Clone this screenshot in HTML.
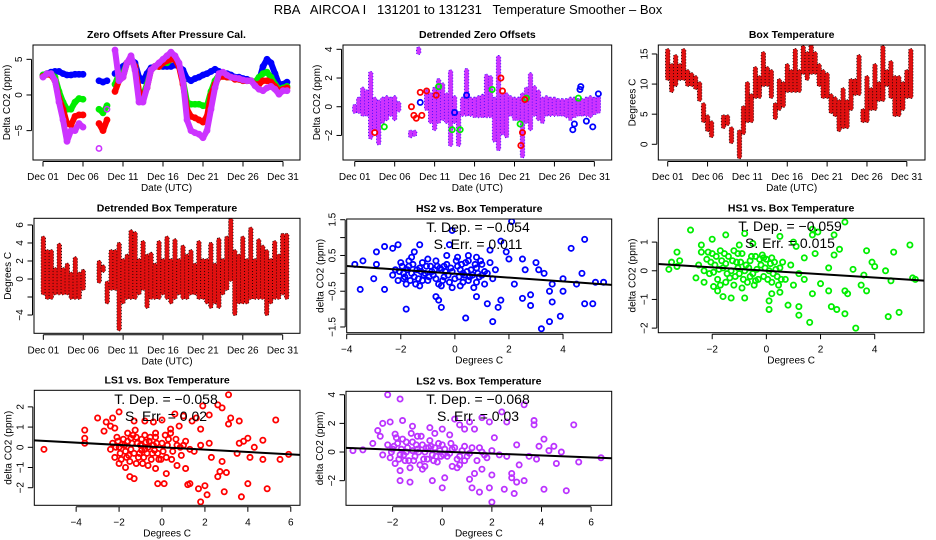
<!DOCTYPE html>
<html><head><meta charset="utf-8"><style>
html,body{margin:0;padding:0;background:#fff}
svg{display:block}
text{font-family:"Liberation Sans",sans-serif;fill:#000}
</style></head><body>
<svg id="chart" width="936" height="540" viewBox="0 0 936 540" xmlns="http://www.w3.org/2000/svg">
<rect width="936" height="540" fill="#fff"/>
<text x="468" y="14" font-size="13" text-anchor="middle" xml:space="preserve">RBA   AIRCOA I   131201 to 131231   Temperature Smoother – Box</text>
</svg>
<script>
// ---------- DATA ----------
// half-day series, day = 1 + 0.5*i (Dec 01 = 1)
const zoBlue = [2.8,3,3.2,3.3,3.3,3,2.8,2.8,2.9,2.9,2.9,null,null,null,2,1.8,2,null,3,3.5,4,4.5,5,4.5,2.5,2,3,3.8,4,4,4,4,4,4.2,4,3.5,2.3,2,2.3,2.5,2.8,3,3.3,3.6,3.3,3,3,2.8,2.5,2.5,2.3,2.2,2,1.5,2,4,5,4.5,3,1.5,1.5,1.8];
const zoGreen = [2.8,3,3,2.5,0.5,-1,-2,-2,-1,-0.5,-0.6,null,null,null,-2,-2.5,-1.5,null,1.5,3,3,4.5,5,4,0.5,0,1.5,3.5,4,4,4.5,4.5,5,5,4.2,2,-1,-1.3,-1.3,-1.3,-1.5,-1.5,0.5,2,2.8,2.8,2.5,2.5,2.3,2.2,2,2,2,1.8,2.5,3,3.2,2.5,1.5,0.8,1,1.2];
const zoRed = [2.6,2.9,2.8,2,-0.5,-2,-4,-4.2,-3,-2.8,-2.8,null,null,null,-4,-5,-3.5,null,0.5,2,2.5,4.5,5,4,0.5,-0.5,1,3.5,4,4,4.5,4.8,5,5,4,1.5,-2,-3,-3.2,-3.5,-3.8,-3,0,1.5,2.5,2.6,2.5,2.5,2.2,2.2,2,2,2,1.5,1.5,2,2,1.8,1.2,0.6,0.8,1];
const zoMag = [2.5,3,3,2,-1,-3.5,-6.5,-5,-5,-4,-4.5,null,null,null,-7.5,null,-2,null,6.3,2,2.5,4.5,5.5,3.5,-1,-1,1,3.5,4,4.5,5,5.5,6,5.5,4.5,2,-3.5,-5,-5.3,-5.5,-6,-5,-2,1,3,3.2,2.8,2.5,2.4,2.3,2.1,2,2,1.3,0.8,0.6,1,1.2,0.8,0.1,0.6,0.6];

const dzLo = [-0.3,-0.3,-0.5,-0.5,-2.1,-1.5,-2.5,-1,-0.8,-0.5,-0.8,-0.2,null,null,-2,-1.9,3.8,null,-0.1,-1,-1.5,-1,-0.8,-1,-2.6,-1,-2.6,-0.5,-0.5,-0.5,-0.6,-0.6,-0.6,-0.6,-0.6,-2.3,-2.9,-1.8,-2,-0.5,-0.8,-0.8,-3.4,-1,-1.5,-0.5,-0.8,-1,-0.5,-0.5,-0.5,-0.5,-0.5,-0.6,-0.8,-0.6,-0.5,-0.5,-0.5,-0.6,-0.4,-0.3];
const dzHi = [0,0.5,1.2,1,2.3,0.5,0.3,0.5,0.6,0.5,0.6,0.2,null,null,-1.8,-1.8,4,null,1,0.8,1.2,1.8,1.5,0.8,2.4,0.6,-0.5,0.5,2.5,0.5,0.5,0.6,0.7,2.1,2,0.5,3.4,0.8,0.8,0.6,0.5,0.5,0.8,1.2,2.2,1.3,1,0.5,0.6,0.5,0.5,0.4,0.4,0.4,0.5,0.5,0.4,0.4,0.5,0.6,0.5,0.6];
const dzBluePts = [[28.3,-1.6],[28.5,-1.2],[29.2,1.2],[29.3,1.4],[30,-1],[30.8,-1.4],[31.5,0.9],[9.2,0.3],[15,0.8],[13.5,-0.4]];
const dzGreenPts = [[4.7,-1.4],[13.2,-1.6],[14.2,-1.6],[21.7,-1.2],[22.5,0.6],[29,0.6],[11.5,1.4],[18.2,1.2]];
const dzRedPts = [[8.1,0],[8.7,-0.8],[9.2,1],[9.4,-0.6],[10,1.1],[3.5,-1.8],[21.8,-2.7],[22,-1.8],[22.3,0.5],[19.3,2],[19.5,1.1],[11.2,0.8],[8.4,-0.6]];

const btLo = [11,9,10,11,11,10,10,9.5,7.5,4,2.5,1.5,null,null,3,3.5,0.5,null,-2,2,4,4,8,8,10,10,8,4.5,6,6.5,9,9,9,9,12,11,12,12,10,8,8,5.5,5,2.5,3,3,6,8.5,8.5,4,4,6,6,7.5,7.5,10,8,5,5,6,8,8];
const btHi = [15.5,13,14.5,13,15.5,12,11.5,11,10,6.5,4.5,3.5,null,null,4.5,4.5,2.5,null,2,6,10,8,12.5,11,15,12.5,12,6.5,10.5,10,13,12,15.5,12,16,15,16.5,15,13,12,11.5,8,7.5,7,9,7,10.5,10.5,14.5,5.5,11,9,13,10,16,12,13.5,11,11,10,12,15.5];

const dbLo = [-1.5,-2,-2,-1.5,-1.5,-1.5,-1.5,-2,-2,-2,-1,null,null,null,-0.2,1,-2.5,-1,-1,-5.5,-2.5,-2,-2,-2,-1.5,-1,-3,-2,-2,-2,-1.5,-2,-2.5,-2,-1.5,-2,-2,-1.5,-1.5,-2,-2,-2.5,-3,-2.5,-3,-1.5,-1,0,-3.8,-2.5,-2.5,-2.5,-2,-2,-2,-2,-3.8,-2.5,-2,-2,-1.5,-2];
const dbHi = [4.5,3,3,1,3.7,1,1.5,0.5,2.2,0.5,0.8,null,null,null,1.8,1.3,-0.5,3,3,3.8,2,2.5,5.2,5,2,4,2.5,2.7,1.5,4,2,4.5,2,4.2,2,3.5,2.5,3,1.5,4,2,2,3.8,1.5,4.3,2,4.5,6.5,3,2.5,4.5,2,5.5,2,4.2,3.5,3,2,4,2.5,4.8,4.8];

const hs2Pts = [[-3.7,0.25],[-3.5,-0.45],[-3.4,0.35],[-2.9,0.6],[-2.9,0.25],[-3,-0.15],[-2.6,0.75],[-2.6,-0.45],[-2.3,0.7],[-2.1,0.8],[-1.8,-1.0],[-1.3,0.8],[-1.5,0.6],[-0.7,-0.65],[-0.6,-0.75],[-0.5,-0.95],[-0.3,0.5],[-0.2,0.8],[-0.1,1.2],[0.1,0.45],[0.4,-1.25],[0.5,0.5],[0.8,-0.65],[0.8,0.45],[1.2,-0.85],[1.3,0.65],[1.4,-1.35],[1.6,-0.95],[1.7,0.9],[1.7,-0.75],[1.9,0.6],[2.1,1.45],[2.0,0.4],[2.5,0.4],[2.5,-0.7],[2.8,-0.6],[2.8,-0.9],[3.0,0.3],[3.1,0.1],[3.2,-1.55],[3.5,-1.35],[3.5,-0.5],[3.6,-0.3],[3.9,-1.2],[4.0,-0.5],[4.0,-0.15],[4.3,0.7],[4.5,-0.3],[4.7,0.0],[4.8,0.95],[4.8,-0.85],[5.1,-0.85],[5.2,-0.25],[5.5,-0.25],[3.6,-0.8],[2.6,0.1],[2.2,-0.3],[3.3,0.0],
[-2.2,0.1],[-2.1,-0.2],[-2,0.3],[-1.9,0],[-1.8,-0.3],[-1.7,0.2],[-1.6,0.45],[-1.5,-0.1],[-1.4,0.1],[-1.3,-0.35],[-1.2,0.3],[-1.1,0],[-1,-0.2],[-0.9,0.2],[-0.8,-0.05],[-0.7,0.35],[-0.6,-0.3],[-0.5,0.1],[-0.4,-0.1],[-0.3,0.25],[-0.2,-0.25],[-0.1,0.05],[0,-0.15],[0.1,0.2],[0.2,-0.35],[0.3,0],[0.4,0.3],[0.5,-0.2],[0.6,0.1],[0.7,-0.4],[0.8,0.15],[0.9,-0.1],[1,0.25],[1.1,-0.3],[1.2,0],[1.3,0.3],[1.4,-0.15],[1.5,0.1],[-1.9,-0.15],[-1.6,0],[-1.3,0.15],[-1,0.4],[-0.7,-0.15],[-0.4,0.2],[-0.1,-0.4],[0.2,0.1],[0.5,0.35],[0.8,-0.25],[1.1,0.05],[-2.3,-0.05],[-1.75,0.1],[-1.45,-0.3],[-1.15,-0.05],[-0.85,0.05],[-0.55,0.15],[-0.25,-0.05],[0.05,0.35],[0.35,-0.05],[0.65,-0.05],[0.95,0.35],
[-2.05,0.05],[-1.95,0.2],[-1.85,-0.1],[-1.65,-0.2],[-1.55,0.25],[-1.35,-0.15],[-1.25,0.05],[-1.05,0.2],[-0.95,-0.1],[-0.75,0.1],[-0.65,0.2],[-0.45,-0.2],[-0.35,0.05],[-0.15,0.15],[0.15,-0.1],[0.25,0.25],[0.45,0.05],[0.55,-0.1],[0.75,0.25],[0.85,0],[-1.2,-0.2],[-0.5,-0.35],[-1.7,0.35],[0.3,-0.25],[1.0,-0.05]];
const hs1Pts = [[-3.6,0.05],[-3.5,0.3],[-3.3,0.15],[-3.3,0.65],[-3.2,0.35],[-2.8,1.42],[-2.6,-0.25],[-2.4,0.9],[-2.4,0.65],[-2.3,-0.4],[-2,1.1],[-1.8,-0.7],[-1.6,-0.9],[-1.5,1.25],[-1.3,-0.95],[-1,0.9],[-0.9,-0.6],[-0.8,1.3],[-0.8,-0.95],[-0.5,0.95],[-0.1,0.45],[0.1,-1.35],[0.1,-1.05],[0.2,-0.8],[0.5,1.2],[0.5,-0.75],[0.8,-1.2],[1,1],[1.1,0.85],[1.2,-1.55],[1.2,-1.25],[1.4,0.45],[1.6,-1.8],[1.7,1.25],[1.7,1.45],[1.7,-0.8],[1.8,0.6],[1.9,1.35],[2,-0.45],[2.3,-0.7],[2.4,-1.25],[2.5,1.25],[2.5,0.55],[2.6,-1.35],[2.7,0.75],[2.9,-1.5],[2.9,-0.7],[2.9,1.7],[3,-0.8],[3.3,-2],[3.2,0.05],[3.5,-0.5],[3.6,-0.15],[3.7,0.7],[3.7,-0.7],[3.9,0.3],[4,0.15],[4.4,0.0],[4.5,-1.6],[4.6,-0.35],[4.7,0.65],[4.9,-1.45],[5.3,0.9],[5.4,-0.25],[5.5,-0.3],[2.3,0.1],[1.4,-0.3],[1,-0.5],
[-2.2,0.4],[-2.1,-0.1],[-2,0.6],[-1.9,0.2],[-1.8,-0.3],[-1.7,0.7],[-1.6,0.1],[-1.5,-0.4],[-1.4,0.5],[-1.3,0],[-1.2,-0.5],[-1.1,0.3],[-1,-0.1],[-0.9,0.6],[-0.8,0],[-0.7,-0.4],[-0.6,0.35],[-0.5,-0.1],[-0.4,0.5],[-0.3,-0.3],[-0.2,0.2],[-0.1,-0.2],[0,0.4],[0.1,0],[0.2,-0.4],[0.3,0.3],[0.4,-0.2],[0.5,0.1],[0.7,-0.3],[0.9,0.2],[-2.3,0],[-1.95,-0.55],[-1.65,0.35],[-1.35,-0.25],[-1.05,0.6],[-0.75,0.2],[-0.45,-0.5],[-0.15,0.55],[0.15,0.25],[0.45,-0.5],[-2.5,0.2],[-1.5,0.25],[-0.6,-0.2],[0.25,-0.1],[1.2,-0.1],
[-2.05,0.3],[-1.95,-0.05],[-1.85,0.5],[-1.75,0.05],[-1.55,0.6],[-1.45,-0.1],[-1.25,0.35],[-1.15,-0.2],[-0.95,0.3],[-0.85,-0.3],[-0.65,0.1],[-0.55,0.5],[-0.35,0.05],[-0.25,0.4],[-0.05,0.1],[0.05,-0.3],[0.35,0.05],[0.55,-0.3],[-2.15,0.65],[-1.05,0.1],[-0.4,-0.35],[0.2,0.45],[-1.7,-0.5],[-1.2,0.7],[0.6,0.3]];
const ls1Pts = [[-5.5,-0.1],[-3.6,0.85],[-3.6,0.45],[-3.6,0.2],[-3,1.45],[-2.7,0.8],[-2.6,1.25],[-2.4,1.05],[-2.3,1.45],[-2.2,0.95],[-2,-0.8],[-2,1.75],[-1.7,-1],[-1.5,-1.45],[-1.3,-1.55],[-1.3,1.3],[-0.8,1.3],[-0.4,1.25],[-0.3,-1.05],[-0.2,-1.8],[0,1.35],[0.1,-1.8],[0.2,-1.3],[0.4,0.7],[0.6,1.65],[0.7,-0.9],[0.8,1.05],[1,1.55],[1.1,-1.05],[1.2,-1.85],[1.3,-1.8],[1.4,1.3],[1.6,1.45],[1.7,-2.05],[1.8,0.9],[1.8,-2.7],[1.9,2.05],[2,-1.9],[2.1,-2.35],[2.2,1.6],[2.6,-1.45],[2.6,2.1],[2.7,-1.2],[2.8,1.95],[2.8,-0.7],[2.9,-2.2],[3,-1.25],[3.1,2.6],[3.1,1.15],[3.2,1.45],[3.6,1.3],[3.6,0.2],[3.7,-2.45],[3.8,0.3],[4,0.45],[4,-1.8],[4.1,-0.5],[4.3,0.0],[4.7,0.35],[4.7,-0.6],[4.9,-2.05],[5.3,1.35],[5.5,-0.6],[5.9,-0.35],[2.3,-0.5],[1.5,-0.2],[3.5,-0.3],
[-2.3,0.2],[-2.2,-0.5],[-2.1,0.5],[-2,0],[-1.9,-0.6],[-1.8,0.4],[-1.7,-0.2],[-1.6,0.7],[-1.5,-0.7],[-1.4,0.2],[-1.3,-0.3],[-1.2,0.5],[-1.1,-0.5],[-1,0.1],[-0.9,-0.8],[-0.8,0.6],[-0.7,-0.3],[-0.6,0.3],[-0.5,-0.6],[-0.4,0.1],[-0.3,0.5],[-0.2,-0.3],[0,0.2],[0.2,-0.5],[0.3,0.4],[0.5,-0.2],[0.7,0.1],[0.9,-0.4],[1.1,0.3],[1.3,-0.1],[-1.85,0.15],[-1.55,-0.4],[-1.25,0.85],[-0.95,-0.15],[-0.65,-0.9],[-0.35,-0.15],[-0.05,-0.6],[0.4,0.9],[-2.4,-0.1],[-1.45,0.45],[-1.05,-0.3],[-0.75,0.25],[1.8,0.1],[2.2,0.2],[0.15,0.6],
[-2.15,0.0],[-2.05,0.3],[-1.95,-0.3],[-1.75,0.1],[-1.65,-0.5],[-1.45,-0.1],[-1.35,0.6],[-1.15,0.2],[-0.95,0.4],[-0.85,-0.5],[-0.65,0.0],[-0.55,0.5],[-0.45,-0.3],[-0.25,0.2],[-0.15,-0.6],[0.05,-0.2],[0.25,0.1],[0.45,-0.6],[0.65,0.4],[0.85,0.0],[-1.6,0.3],[-1.2,-0.8],[-0.8,-0.1],[-0.3,0.7],[1.0,0.1]];
const ls2Pts = [[-3.6,0.1],[-3.2,0.15],[-2.8,0.6],[-2.6,1.5],[-2.5,1.1],[-2.4,2.0],[-2.2,4.0],[-2.1,2.1],[-1.9,1.25],[-1.7,3.7],[-1.7,-1.3],[-1.7,-2],[-1.6,2.2],[-1.3,-2.1],[-1.2,1.8],[-1,1.1],[-0.7,-1.0],[-0.5,1.7],[-0.4,-2],[-0.3,1.3],[0,-2.5],[0,1.6],[0.1,-1.8],[0.3,1.2],[0.4,-1.0],[0.5,2.3],[0.6,-1.1],[0.7,1.9],[0.9,1.6],[0.9,-0.6],[1.1,2.1],[1.1,-1.9],[1.2,-2.5],[1.3,1.6],[1.3,-1.5],[1.5,-2.8],[1.6,2.4],[1.6,-1.2],[1.9,-2.5],[1.9,2.1],[2,-3.5],[2,-1.6],[2.1,1.0],[2.4,2.8],[2.5,-2.6],[2.6,2.1],[2.8,-1.5],[2.8,-1.8],[2.9,-2.9],[3,-2.1],[3,0.5],[3.1,-0.9],[3.3,3.3],[3.3,-2.0],[3.7,2.2],[3.7,1.9],[3.8,-0.5],[3.9,0.4],[4.1,0.9],[4.1,-2.6],[4.3,0.1],[4.5,0.4],[4.6,-0.8],[4.8,0],[5,-2.7],[5.3,1.9],[5.5,-0.7],[6.4,-0.4],[2.6,-0.3],[3.5,-0.3],
[-2.2,0.5],[-2.1,-0.4],[-2,0.2],[-1.9,-0.8],[-1.8,0.6],[-1.7,-0.2],[-1.6,0.9],[-1.5,-0.6],[-1.4,0.3],[-1.3,-1.1],[-1.2,0.7],[-1.1,-0.3],[-1,0.2],[-0.9,-0.9],[-0.8,0.5],[-0.7,0],[-0.6,-0.5],[-0.5,0.8],[-0.4,-0.2],[-0.3,0.3],[-0.2,-0.7],[-0.1,0.1],[0,0.5],[0.2,-0.3],[0.4,0.2],[0.6,-0.5],[0.8,0.1],[1,-0.3],[1.2,0.3],[1.4,-0.6],[1.6,0],[1.8,-0.4],[2,0.1],[2.3,-0.2],[-1.85,1.0],[-1.45,0.0],[-1.15,-0.6],[-0.85,1.1],[-0.55,0.3],[-0.25,-0.3],[0.05,-0.2],[0.35,0.6],[-2.4,-0.2],[-1.25,1.3],[0.7,-0.9],
[-2.05,0.0],[-1.95,0.4],[-1.75,-0.5],[-1.65,0.2],[-1.55,-0.2],[-1.45,0.7],[-1.35,-0.6],[-1.05,0.5],[-0.95,0.0],[-0.75,-0.5],[-0.65,0.3],[-0.45,0.4],[-0.35,-0.6],[-0.15,0.6],[-0.05,-0.3],[0.1,0.2],[0.3,-0.1],[0.5,0.3],[0.7,-0.3],[0.9,0.4],[1.1,-0.1],[1.5,0.3],[-1.2,0.1],[-0.8,-1.2],[1.7,-0.2]];

// regression fits [slope, intercept]
const fitHS2 = [-0.054, -0.01];
const fitHS1 = [-0.059, 0.0];
const fitLS1 = [-0.058, 0.0];
const fitLS2 = [-0.068, 0.03];
const statText = {hs2:["T. Dep. =  \u22120.054","S. Err. = 0.011"], hs1:["T. Dep. =  \u22120.059","S. Err. = 0.015"], ls1:["T. Dep. =  \u22120.058","S. Err. = 0.02"], ls2:["T. Dep. =  \u22120.068","S. Err. = 0.03"]};

const dayTicks = [1,6,11,16,21,26,31];
const dayLabels = ["Dec 01","Dec 06","Dec 11","Dec 16","Dec 21","Dec 26","Dec 31"];

// ---------- DRAWING ----------
const NS = "http://www.w3.org/2000/svg";
const svg = document.getElementById("chart");
function el(tag, attrs, parent){
  const e = document.createElementNS(NS, tag);
  for (const k in attrs) e.setAttribute(k, attrs[k]);
  (parent||svg).appendChild(e);
  return e;
}
function panel(name, box, xlim, ylim){
  const g = el("g", {});
  
  
  const sx = v => box[0] + (v - xlim[0]) / (xlim[1] - xlim[0]) * (box[2] - box[0]);
  const sy = v => box[3] - (v - ylim[0]) / (ylim[1] - ylim[0]) * (box[3] - box[1]);
  const clip = el("clipPath", {id: "clip-" + name}, g);
  el("rect", {x: box[0], y: box[1], width: box[2]-box[0], height: box[3]-box[1]}, clip);
  const plot = el("g", {"clip-path": "url(#clip-" + name + ")"}, g);
  return {g, plot, sx, sy, box};
}
function frame(p, title, xt, xl, yt, yl, xtitle, ytitle){
  const b = p.box, g = p.g;
  const r = el("rect", {x: b[0], y: b[1], width: b[2]-b[0], height: b[3]-b[1], fill: "none", stroke: "#000", "stroke-width": 1});
  g.appendChild(r);
  
  
  const ax = el("g", {}, g);
  
  
  const xa = xt.map(p.sx);
  el("line", {x1: xa[0], x2: xa[xa.length-1], y1: b[3]+1.5, y2: b[3]+1.5, stroke: "#000"}, ax);
  xt.forEach((v,i) => {
    el("line", {x1: xa[i], x2: xa[i], y1: b[3]+1.5, y2: b[3]+6.5, stroke: "#000"}, ax);
    if (xl[i] !== "") {
      const t = el("text", {x: xa[i], y: b[3]+20, "font-size": 10, "text-anchor": "middle"}, ax);
      t.textContent = xl[i];
      
      
    }
  });
  const ay = el("g", {}, g);
  
  
  const ya = yt.map(p.sy);
  el("line", {y1: ya[0], y2: ya[ya.length-1], x1: b[0]-1.5, x2: b[0]-1.5, stroke: "#000"}, ay);
  yt.forEach((v,i) => {
    el("line", {y1: ya[i], y2: ya[i], x1: b[0]-1.5, x2: b[0]-6.5, stroke: "#000"}, ay);
    if (yl[i] !== "") {
      const x = b[0]-11;
      const t = el("text", {x: x, y: ya[i], "font-size": 10, "text-anchor": "middle", transform: "rotate(-90 " + x + " " + ya[i] + ")"}, ay);
      t.textContent = yl[i];
      
      
    }
  });
  const tt = el("text", {x: (b[0]+b[2])/2, y: b[1]-7, "font-size": 10.5, "font-weight": "bold", "text-anchor": "middle"}, g);
  tt.textContent = title;
  
  
  const xtt = el("text", {x: (b[0]+b[2])/2, y: b[3]+31, "font-size": 10, "text-anchor": "middle"}, g);
  xtt.textContent = xtitle;
  
  
  const yx = b[0]-23, yy = (b[1]+b[3])/2;
  const ytt = el("text", {x: yx, y: yy, "font-size": 10, "text-anchor": "middle", transform: "rotate(-90 " + yx + " " + yy + ")"}, g);
  ytt.textContent = ytitle;
  
  
}
function series(p, vals, color, name){
  const g = el("g", {}, p.plot);
  
  
  let seg = [];
  const flush = () => { if (seg.length > 1) el("polyline", {points: seg.join(" "), fill: "none", stroke: color, "stroke-width": 6, "stroke-linejoin": "round", "stroke-linecap": "round"}, g); seg = []; };
  vals.forEach((v,i) => {
    if (v === null) { flush(); return; }
    const x = p.sx(1 + 0.5*i), y = p.sy(v);
    seg.push(x.toFixed(1) + "," + y.toFixed(1));
    const c = el("circle", {cx: x, cy: y, r: 2.6, fill: "none", stroke: color, "stroke-width": 1.6}, g);
    
  });
  flush();
}
function bands(p, lo, hi, fill, dot, name, w){
  const g = el("g", {}, p.plot);
  
  
  lo.forEach((v,i) => {
    if (v === null || hi[i] === null) return;
    const x = p.sx(1 + 0.5*i), y1 = p.sy(hi[i]), y2 = p.sy(v);
    const rr = el("rect", {x: x - w/2, y: y1 - 2.5, width: w, height: (y2 - y1) + 5, rx: 2.5, fill: fill, stroke: dot, "stroke-width": 0.8, "stroke-dasharray": "1 2"}, g);
    
  });
}
function points(p, pts, color, name, r){
  const g = el("g", {}, p.plot);
  
  
  pts.forEach(pt => {
    const c = el("circle", {cx: p.sx(pt[0]), cy: p.sy(pt[1]), r: r||2.6, fill: "none", stroke: color, "stroke-width": 1.8}, g);
    
  });
}
function fitLine(p, fit, xlim){
  const l = el("line", {x1: p.sx(xlim[0]), y1: p.sy(fit[0]*xlim[0]+fit[1]), x2: p.sx(xlim[1]), y2: p.sy(fit[0]*xlim[1]+fit[1]), stroke: "#000", "stroke-width": 2}, p.plot);
  
  
}
function stats(p, lines, cx, y1){
  lines.forEach((s,i) => {
    const t = el("text", {x: cx, y: y1 + i*17, "font-size": 14, "text-anchor": "middle"}, p.g);
    t.textContent = s;
    
    
  });
}

// Panel 1
const X1 = [-0.25, 33.125];
const p1 = panel("zero-offsets-panel", [33,45,300,160], X1, [-9.12, 7.01]);
series(p1, zoBlue, "#0000ff", "series-hs2");
series(p1, zoGreen, "#00ee00", "series-hs1");
series(p1, zoRed, "#ff0000", "series-ls1");
series(p1, zoMag, "#cc33ff", "series-ls2");
frame(p1, "Zero Offsets After Pressure Cal.", dayTicks, dayLabels, [-5,0,5], ["\u22125","0","5"], "Date (UTC)", "Delta CO2 (ppm)");

// Panel 2
const p2 = panel("detrended-zero-offsets-panel", [343,45,611.7,160], [-0.47, 33.17], [-3.71, 4.3]);
bands(p2, dzLo, dzHi, "#cc33ff", "#3300ff", "series-ls2-range", 4.5);
points(p2, dzBluePts, "#0000ff", "series-hs2", 2.6);
points(p2, dzGreenPts, "#00ee00", "series-hs1", 2.6);
points(p2, dzRedPts, "#ff0000", "series-ls1", 2.6);
frame(p2, "Detrended Zero Offsets", dayTicks, dayLabels, [-2,0,2,4], ["\u22122","0","2","4"], "Date (UTC)", "Delta CO2 (ppm)");

// Panel 3
const p3 = panel("box-temperature-panel", [658.3,45,925,160], [-0.18, 33.28], [-2.61, 16.49]);
bands(p3, btLo, btHi, "#e01010", "#000", "box-temp-series", 4.5);
frame(p3, "Box Temperature", dayTicks, dayLabels, [0,5,10,15], ["0","5","10","15"], "Date (UTC)", "Degrees C");

// Panel 4
const p4 = panel("detrended-box-temp-panel", [34,218.3,300,333.3], [-0.17, 33.17], [-6.03, 6.74]);
bands(p4, dbLo, dbHi, "#e01010", "#000", "detrended-temp-series", 4.5);
frame(p4, "Detrended Box Temperature", dayTicks, dayLabels, [-4,-2,0,2,4,6], ["\u22124","","0","2","4","6"], "Date (UTC)", "Degrees C");

// Panel 5
const X5 = [-4.0, 5.8];
const p5 = panel("hs2-scatter-panel", [346.7,219,611.7,332.7], X5, [-1.66, 1.52]);
points(p5, hs2Pts, "#0000ff", "hs2-points");
fitLine(p5, fitHS2, X5);
stats(p5, statText.hs2, 478, 232);
frame(p5, "HS2 vs. Box Temperature", [-4,-2,0,2,4], ["\u22124","\u22122","0","2","4"], [-1.5,-1,-0.5,0,0.5,1,1.5], ["\u22121.5","","\u22120.5","","0.5","","1.5"], "Degrees C", "delta CO2 (ppm)");

// Panel 6
const X6 = [-3.99, 5.82];
const p6 = panel("hs1-scatter-panel", [658.3,218.3,924,332.7], X6, [-2.16, 1.83]);
points(p6, hs1Pts, "#00ee00", "hs1-points");
fitLine(p6, fitHS1, X6);
stats(p6, statText.hs1, 790, 231);
frame(p6, "HS1 vs. Box Temperature", [-2,0,2,4], ["\u22122","0","2","4"], [-2,-1,0,1], ["\u22122","\u22121","0","1"], "Degrees C", "delta CO2 (ppm)");

// Panel 7
const X7 = [-5.95, 6.43];
const p7 = panel("ls1-scatter-panel", [34.3,390.3,300,505.3], X7, [-2.87, 2.82]);
points(p7, ls1Pts, "#ff0000", "ls1-points");
fitLine(p7, fitLS1, X7);
stats(p7, statText.ls1, 166, 404);
frame(p7, "LS1 vs. Box Temperature", [-4,-2,0,2,4,6], ["\u22124","\u22122","0","2","4","6"], [-2,-1,0,1,2], ["\u22122","\u22121","0","1","2"], "Degrees C", "delta CO2 (ppm)");

// Panel 8
const X8 = [-3.88, 6.83];
const p8 = panel("ls2-scatter-panel", [346,391.3,611.7,505.3], X8, [-3.72, 4.24]);
points(p8, ls2Pts, "#bb33ff", "ls2-points");
fitLine(p8, fitLS2, X8);
stats(p8, statText.ls2, 478, 404);
frame(p8, "LS2 vs. Box Temperature", [-2,0,2,4,6], ["\u22122","0","2","4","6"], [-2,0,2,4], ["\u22122","0","2","4"], "Degrees C", "delta CO2 (ppm)");
</script>
</body></html>
